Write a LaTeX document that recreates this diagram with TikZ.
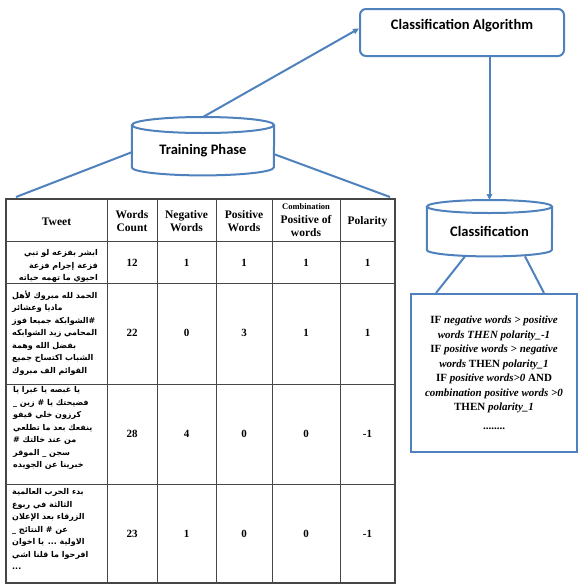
\documentclass[tikz,border=0pt]{standalone}
\usepackage{fontspec}
\setmainfont{Liberation Serif}
\newfontfamily\calibri{Carlito}
\newfontfamily\arabicfont[Script=Arabic]{DejaVu Sans}
\TeXXeTstate=1
\usetikzlibrary{arrows.meta,calc}
\definecolor{lineblue}{RGB}{79,129,189}
\definecolor{gridgray}{RGB}{70,70,70}
\begin{document}
\begin{tikzpicture}[x=1pt,y=-1pt,
  blueline/.style={draw=lineblue,line width=2pt},
  arr/.style={blueline,-{Triangle[length=6pt,width=5.5pt]}},
  shapetext/.style={font=\calibri\bfseries\fontsize{14.5}{16}\selectfont,inner sep=0pt,anchor=north},
  grid/.style={draw=gridgray,line width=0.9pt},
  head/.style={font=\bfseries\fontsize{11.5}{13}\selectfont,align=center,inner sep=0pt},
  cell/.style={font=\bfseries\fontsize{11}{13}\selectfont,inner sep=0pt},
  ar/.style={font=\arabicfont\bfseries\fontsize{8}{12.5}\selectfont,inner sep=0pt},
  rulestext/.style={font=\bfseries\fontsize{11}{14.5}\selectfont,align=center,inner sep=0pt}
]
\useasboundingbox (0,0) rectangle (579,584);

% Classification Algorithm box
\node[shapetext,draw=lineblue,line width=2pt,rounded corners=6pt,
      minimum width=204pt,text height=20pt,text depth=27pt] (algo) at (462,8) {Classification Algorithm};

% Training Phase cylinder
\node[shapetext,minimum width=142pt,text height=37pt,text depth=21pt] (train) at (203,117) {Training Phase};
\draw[blueline] ($(train.north)+(0,8)$) ellipse [x radius=71pt,y radius=8pt];
\draw[blueline] ($(train.north west)+(0,8)$) -- ($(train.south west)+(0,-8)$)
  arc[start angle=180,end angle=360,x radius=71pt,y radius=8pt] -- ($(train.north east)+(0,8)$);

% Classification cylinder
\node[shapetext,minimum width=125pt,text height=36pt,text depth=20pt] (classif) at (489.5,200) {Classification};
\draw[blueline] ($(classif.north)+(0,6.5)$) ellipse [x radius=62.5pt,y radius=6.5pt];
\draw[blueline] ($(classif.north west)+(0,6.5)$) -- ($(classif.south west)+(0,-6.5)$)
  arc[start angle=180,end angle=360,x radius=62.5pt,y radius=6.5pt] -- ($(classif.north east)+(0,6.5)$);

% Rules box
\node[rulestext,draw=lineblue,line width=2pt,minimum width=166pt,minimum height=158pt,anchor=north west] (rules) at (410,293)
{IF \textit{negative words > positive}\\
 \textit{words THEN polarity\_-1}\\
 IF \textit{positive words > negative}\\
 \textit{words} THEN \textit{polarity\_1}\\
 IF \textit{positive words>0} AND\\
 \textit{combination positive words >0}\\
 THEN \textit{polarity\_1}\\[4pt]
 ........};

% table corner coordinates for the fan lines
\coordinate (tl) at (16,197);
\coordinate (tr) at (390,197);

% connectors
\draw[arr] (train.north) -- ($(algo.west)+(0,-4)$);
\draw[arr] (algo.south -| classif.north) -- (classif.north);
\draw[blueline] ($(train.west)+(0,6)$) -- (tl);
\draw[blueline] ($(train.east)+(0,8)$) -- (tr);
\draw[blueline] ($(classif.south)+(-24.5,0)$) -- ($(rules.north west)+(26,0)$);
\draw[blueline] ($(classif.south)+(35.5,0)$) -- ($(rules.north west)+(134,0)$);

% Table grid
\draw[grid,line width=1.2pt] (6,199) rectangle (395,583);
\foreach \x in {107,157,216,272,340} \draw[grid] (\x,199) -- (\x,583);
\foreach \y in {241,283,384,484} \draw[grid] (6,\y) -- (395,\y);

% Header
\node[head] (hTweet) at (56.5,222) {Tweet};
\node[head] (hCount) at (132,221.5) {Words\\Count};
\node[head] (hNeg) at (186.5,221.5) {Negative\\Words};
\node[head] (hPos) at (244,221.5) {Positive\\Words};
\node[head,font=\bfseries\fontsize{11.5}{13.5}\selectfont] (hComb) at (306,220.5) {{\fontsize{8.5}{10}\selectfont Combination}\\Positive of\\words};
\node[head] (hPol) at (367.5,222) {Polarity};

% Values
\foreach \r/\y/\a/\b/\c/\d/\e in {1/263/12/1/1/1/1,2/333/22/0/3/1/1,3/434/28/4/0/0/-1,4/534/23/1/0/0/-1}{
  \node[cell] (wc\r) at (132,\y) {\a};
  \node[cell] (ng\r) at (186.5,\y) {\b};
  \node[cell] (ps\r) at (244,\y) {\c};
  \node[cell] (cb\r) at (306,\y) {\d};
  \node[cell] (pl\r) at (367.5,\y) {\e};
}

% Tweets
\node[ar,align=right,anchor=east] (tw1) at (98,266) {%
\beginR ابشر بفزعه لو تبي\endR\\
\beginR فزعة إجرام فزعة\endR\\
\beginR احيوي ما تهمه حياته\endR};
\node[ar,align=left,anchor=west] (tw2) at (12,333) {%
\beginR الحمد لله مبروك لأهل\endR\\
\beginR ماديا وعشائر\endR\\
\beginR \#الشوابكة جميعا فوز\endR\\
\beginR المحامي زيد الشوابكه\endR\\
\beginR بفضل الله وهمة\endR\\
\beginR الشباب اكتساح جميع\endR\\
\beginR القوائم الف مبروك\endR};
\node[ar,align=left,anchor=west] (tw3) at (13,428) {%
\beginR يا غبصه يا غبرا يا\endR\\
\beginR فضيحتك يا \# زين \_\endR\\
\beginR كرزون خلي قيفو\endR\\
\beginR ينفعك بعد ما تطلعي\endR\\
\beginR من عند خالتك \#\endR\\
\beginR سجن \_ الموقر\endR\\
\beginR خبرينا عن الجويده\endR};
\node[ar,align=left,anchor=west] (tw4) at (12,529) {%
\beginR بدء الحرب العالمية\endR\\
\beginR الثالثة في ربوع\endR\\
\beginR الزرقاء بعد الإعلان\endR\\
\beginR عن \# النتائج \_\endR\\
\beginR الاولية ... يا اخوان\endR\\
\beginR افرحوا ما قلنا اشي\endR\\
...};
\end{tikzpicture}
\end{document}
